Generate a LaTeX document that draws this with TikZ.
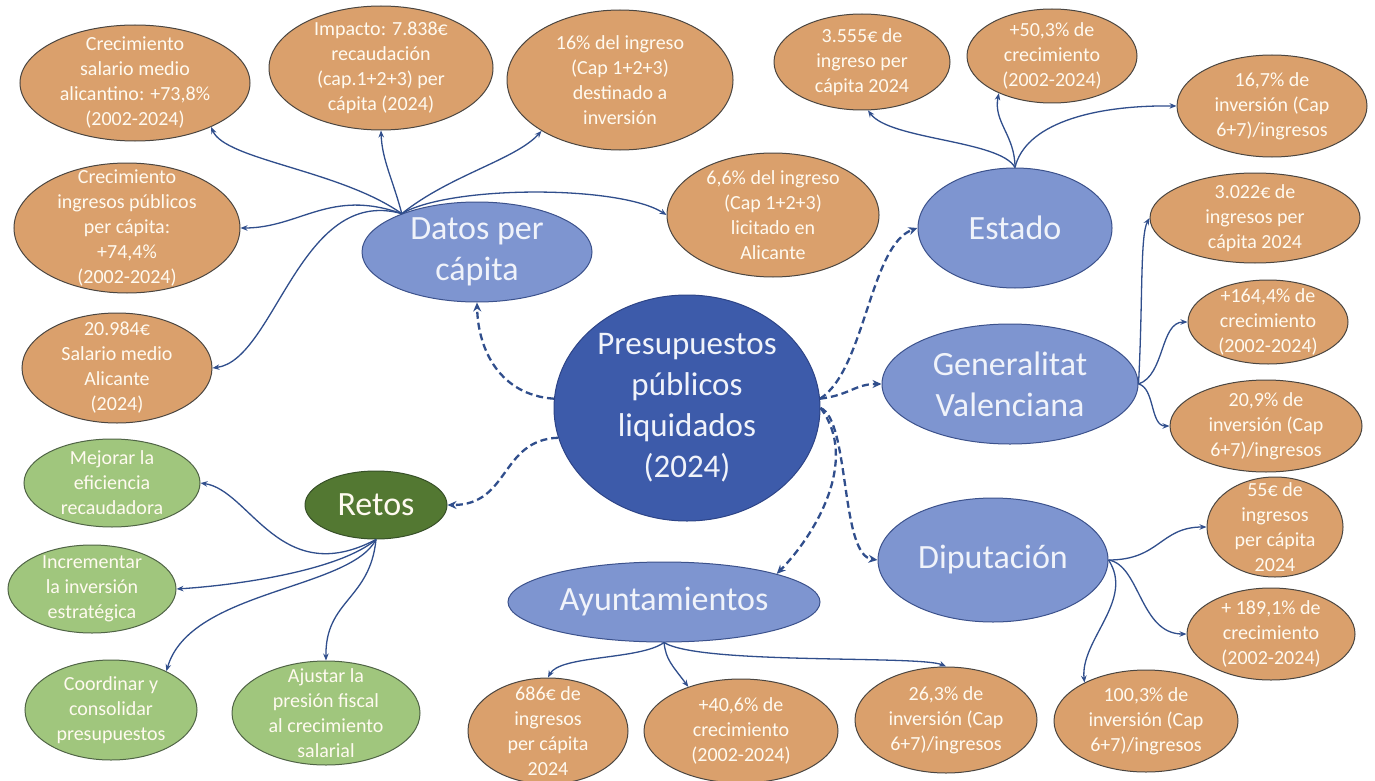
\documentclass[tikz,border=0pt]{standalone}
\usepackage{fontspec}
\setmainfont{Carlito}
\usetikzlibrary{shapes.geometric,arrows.meta}
\definecolor{orng}{RGB}{218,160,108}
\definecolor{orngline}{RGB}{75,70,65}
\definecolor{otext}{RGB}{255,250,240}
\definecolor{lblue}{RGB}{126,149,208}
\definecolor{lblueline}{RGB}{60,82,140}
\definecolor{dblue}{RGB}{61,91,170}
\definecolor{dblueline}{RGB}{45,68,135}
\definecolor{dgreen}{RGB}{83,120,50}
\definecolor{dgreenline}{RGB}{55,80,40}
\definecolor{lgreen}{RGB}{160,198,125}
\definecolor{lgreenline}{RGB}{80,100,70}
\definecolor{btext}{RGB}{240,243,250}
\definecolor{lnk}{RGB}{48,78,140}
\tikzset{
  base/.style={ellipse, inner xsep=-45pt, inner ysep=-75pt, align=center, line width=1pt},
  orng/.style={base, fill=orng, draw=orngline, text=otext, font=\fontsize{20}{25}\selectfont},
  grn/.style={base, fill=lgreen, draw=lgreenline, text=otext, font=\fontsize{20}{25}\selectfont},
  blu/.style={base, fill=lblue, draw=lblueline, text=btext, font=\fontsize{34}{41}\selectfont},
  con/.style={draw=lnk, line width=1.3pt, -{Stealth[length=7pt,width=5.5pt]}},
  dcon/.style={draw=lnk, line width=2.3pt, dash pattern=on 7pt off 4pt, -{Stealth[length=9pt,width=8pt]}}
}
\begin{document}
\begin{tikzpicture}[x=1pt,y=-1pt]
\useasboundingbox[fill=white] (0,0) rectangle (1375,781);

% central and main nodes
\node[base, fill=dblue, draw=dblueline, text=btext, font=\fontsize{33}{41}\selectfont,
  minimum width=266pt, minimum height=226pt] (central) at (687,408)
  {Presupuestos\\públicos\\liquidados\\(2024)};
\node[blu, minimum width=230pt, minimum height=100pt] (datos) at (477,252) {Datos per\\cápita};
\node[blu, minimum width=194pt, minimum height=120pt] (estado) at (1015,228) {Estado};
\node[blu, minimum width=256pt, minimum height=120pt] (gen) at (1010,384) {Generalitat\\Valenciana};
\node[blu, minimum width=230pt, minimum height=124pt] (dip) at (993,560) {Diputación};
\node[blu, minimum width=312pt, minimum height=80pt] (ayun) at (664,602) {Ayuntamientos};
\node[base, fill=dgreen, draw=dgreenline, text=otext, font=\fontsize{34}{41}\selectfont,
  minimum width=142pt, minimum height=68pt] (retos) at (376,505) {Retos};

% orange data nodes
\node[orng, minimum width=230pt, minimum height=116pt] (o1) at (135,83) {Crecimiento\\salario medio\\alicantino: +73,8\%\\(2002-2024)};
\node[orng, minimum width=224pt, minimum height=124pt] (o2) at (381,68) {Impacto: 7.838€\\recaudación\\(cap.1+2+3) per\\cápita (2024)};
\node[orng, minimum width=226pt, minimum height=140pt] (o3) at (620,80) {16\% del ingreso\\(Cap 1+2+3)\\destinado a\\inversión};
\node[orng, minimum width=212pt, minimum height=124pt] (o4) at (773,215) {6,6\% del ingreso\\(Cap 1+2+3)\\licitado en\\Alicante};
\node[orng, minimum width=176pt, minimum height=96pt] (o5) at (862,62) {3.555€ de\\ingreso per\\cápita 2024};
\node[orng, minimum width=170pt, minimum height=94pt] (o6) at (1052,56) {+50,3\% de\\crecimiento\\(2002-2024)};
\node[orng, minimum width=190pt, minimum height=102pt] (o7) at (1272,106) {16,7\% de\\inversión (Cap\\6+7)/ingresos};
\node[orng, minimum width=210pt, minimum height=90pt] (o8) at (1255,218) {3.022€ de\\ingresos per\\cápita 2024};
\node[orng, minimum width=160pt, minimum height=84pt] (o9) at (1268,322) {+164,4\% de\\crecimiento\\(2002-2024)};
\node[orng, minimum width=192pt, minimum height=92pt] (o10) at (1266,426) {20,9\% de\\inversión (Cap\\6+7)/ingresos};
\node[orng, minimum width=136pt, minimum height=100pt] (o11) at (1275,527) {55€ de\\ingresos\\per cápita\\2024};
\node[orng, minimum width=168pt, minimum height=92pt] (o12) at (1271,634) {+ 189,1\% de\\crecimiento\\(2002-2024)};
\node[orng, minimum width=184pt, minimum height=102pt] (o13) at (1146,721) {100,3\% de\\inversión (Cap\\6+7)/ingresos};
\node[orng, minimum width=182pt, minimum height=106pt] (o14) at (946,720) {26,3\% de\\inversión (Cap\\6+7)/ingresos};
\node[orng, minimum width=194pt, minimum height=104pt] (o15) at (741,731) {+40,6\% de\\crecimiento\\(2002-2024)};
\node[orng, minimum width=160pt, minimum height=106pt] (o16) at (548,731) {686€ de\\ingresos\\per cápita\\2024};
\node[orng, minimum width=226pt, minimum height=130pt] (o17) at (127,228) {Crecimiento\\ingresos públicos\\per cápita:\\+74,4\%\\(2002-2024)};
\node[orng, minimum width=190pt, minimum height=110pt] (o18) at (117,368) {20.984€\\Salario medio\\Alicante\\(2024)};

% green challenge nodes
\node[grn, minimum width=176pt, minimum height=88pt] (g1) at (112,483) {Mejorar la\\eficiencia\\recaudadora};
\node[grn, minimum width=168pt, minimum height=88pt] (g2) at (92,589) {Incrementar\\la inversión\\estratégica};
\node[grn, minimum width=172pt, minimum height=100pt] (g3) at (111,710) {Coordinar y\\consolidar\\presupuestos};
\node[grn, minimum width=188pt, minimum height=104pt] (g4) at (326,713) {Ajustar la\\presión fiscal\\al crecimiento\\salarial};

% hubs
\coordinate (dh) at (datos.153);
\coordinate (eh) at (estado.north);
\coordinate (gh) at (gen.east);
\coordinate (dph) at (dip.east);
\coordinate (ah) at (ayun.south);
\coordinate (rh) at (retos.south);

% Datos per capita
\draw[con] (dh) .. controls (340,170) and (225,160) .. (o1.-30);
\draw[con] (dh) .. controls (393,180) and (382,160) .. (o2.south);
\draw[con] (dh) .. controls (450,175) and (515,160) .. (o3.213);
\draw[con] (dh) .. controls (450,185) and (620,185) .. (o4.west);
\draw[con] (dh) .. controls (330,188) and (300,228) .. (o17.east);
\draw[con] (dh) .. controls (300,185) and (275,360) .. (o18.east);

% Estado
\draw[con] (eh) .. controls (1000,140) and (890,140) .. (o5.-83);
\draw[con] (eh) .. controls (1015,135) and (993,122) .. (o6.215);
\draw[con] (eh) .. controls (1025,125) and (1090,105) .. (o7.west);

% Generalitat
\draw[con] (gh) .. controls (1143,300) and (1140,235) .. (o8.west);
\draw[con] (gh) .. controls (1165,375) and (1160,322) .. (o9.west);
\draw[con] (gh) .. controls (1155,388) and (1150,426) .. (o10.west);

% Diputacion
\draw[con] (dph) .. controls (1160,560) and (1160,527) .. (o11.west);
\draw[con] (dph) .. controls (1140,565) and (1140,634) .. (o12.west);
\draw[con] (dph) .. controls (1135,600) and (1080,640) .. (o13.148);

% Ayuntamientos
\draw[con] (ah) .. controls (640,660) and (560,655) .. (o16.north);
\draw[con] (ah) .. controls (666,660) and (672,665) .. (o15.140);
\draw[con] (ah) .. controls (700,665) and (920,655) .. (o14.north);

% Retos
\draw[con] (rh) .. controls (280,590) and (250,490) .. (g1.east);
\draw[con] (rh) .. controls (340,570) and (240,585) .. (g2.east);
\draw[con] (rh) .. controls (350,590) and (190,590) .. (g3.35);
\draw[con] (rh) .. controls (370,600) and (325,600) .. (g4.north);

% dashed from centre
\draw[dcon] (central.176) .. controls (500,395) and (478,350) .. (datos.south);
\draw[dcon] (central.193) .. controls (500,440) and (510,505) .. (retos.east);
\draw[dcon] (central.4) .. controls (865,370) and (870,245) .. (estado.west);
\draw[dcon] (central.4) .. controls (850,395) and (855,384) .. (gen.west);
\draw[dcon] (central.0) .. controls (850,420) and (840,555) .. (dip.west);
\draw[dcon] (central.0) .. controls (860,460) and (815,535) .. (ayun.14);
\end{tikzpicture}
\end{document}
